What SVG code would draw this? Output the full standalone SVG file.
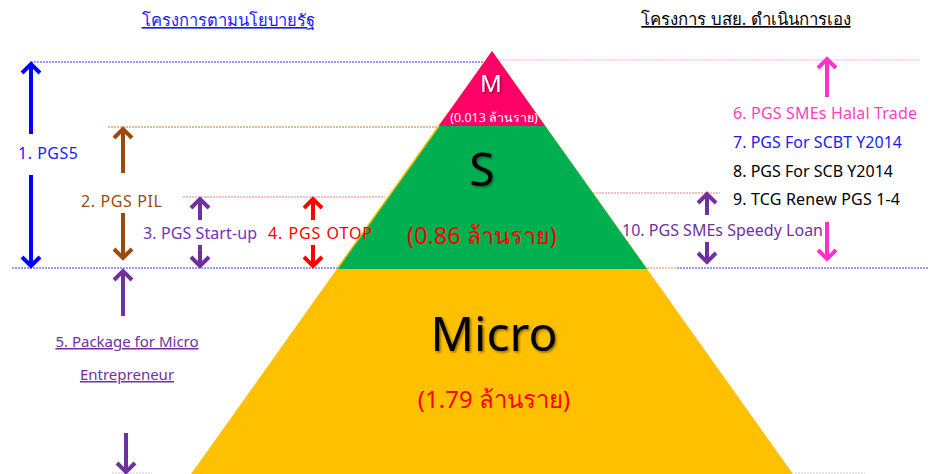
<svg xmlns="http://www.w3.org/2000/svg" width="930" height="474" viewBox="0 0 930 474">
<style>
text{font-family:"Noto Sans","DejaVu Sans",sans-serif;}
.lbl{font-size:16px;}
.sm{font-size:15px;}
.big{fill:#000;filter:url(#sh);}
.dot{stroke-width:1;stroke-dasharray:2,1;fill:none;}
.shaft{stroke-width:4;fill:none;}
.u{text-decoration:underline;}
</style>
<defs>
<filter id="sh" x="-20%" y="-20%" width="140%" height="140%">
<feDropShadow dx="1.5" dy="1.5" stdDeviation="1" flood-color="#000" flood-opacity="0.45"/>
</filter>
<marker id="aBlue" markerUnits="userSpaceOnUse" viewBox="-2 -2 24 24" refX="10" refY="9" markerWidth="24" markerHeight="24" orient="auto"><path d="M1,0 L10,9 L1,18" fill="none" stroke="#0000ff" stroke-width="4"/></marker>
<marker id="aBrown" markerUnits="userSpaceOnUse" viewBox="-2 -2 24 24" refX="10" refY="9" markerWidth="24" markerHeight="24" orient="auto"><path d="M1,0 L10,9 L1,18" fill="none" stroke="#9c4a0c" stroke-width="4"/></marker>
<marker id="aPurple" markerUnits="userSpaceOnUse" viewBox="-2 -2 24 24" refX="10" refY="9" markerWidth="24" markerHeight="24" orient="auto"><path d="M1,0 L10,9 L1,18" fill="none" stroke="#7030a0" stroke-width="4"/></marker>
<marker id="aRed" markerUnits="userSpaceOnUse" viewBox="-2 -2 24 24" refX="10" refY="9" markerWidth="24" markerHeight="24" orient="auto"><path d="M1,0 L10,9 L1,18" fill="none" stroke="#ff0000" stroke-width="4"/></marker>
<marker id="aPink" markerUnits="userSpaceOnUse" viewBox="-2 -2 24 24" refX="10" refY="9" markerWidth="24" markerHeight="24" orient="auto"><path d="M1,0 L10,9 L1,18" fill="none" stroke="#ff33cc" stroke-width="4"/></marker>
</defs>
<rect width="930" height="474" fill="#fff"/>

<g id="headers">
<text x="228" y="26" font-size="16.5" fill="#1a1aff" text-anchor="middle" class="u">โครงการตามนโยบายรัฐ</text>
<text x="746" y="25" font-size="16.8" fill="#000" text-anchor="middle" class="u">โครงการ บสย. ดำเนินการเอง</text>
</g>

<g id="guides">
<line class="dot" x1="31" y1="62" x2="483" y2="62" stroke="#3333ff"/>
<line class="dot" x1="500" y1="60" x2="920" y2="60" stroke="#ff99ff"/>
<line class="dot" x1="108" y1="127" x2="437" y2="127" stroke="#c87832"/>
<line class="dot" x1="183" y1="197" x2="385" y2="197" stroke="#f08080"/>
<line class="dot" x1="593" y1="193" x2="720" y2="193" stroke="#f08080"/>
<line class="dot" x1="12" y1="268" x2="340" y2="268" stroke="#3333ff"/>
<line class="dot" x1="647" y1="268" x2="677" y2="268" stroke="#e09050"/>
<line class="dot" x1="677" y1="268" x2="928" y2="268" stroke="#3333ff"/>
<line class="dot" x1="112" y1="473" x2="152" y2="473" stroke="#cccccc"/>
<line class="dot" x1="795" y1="473" x2="865" y2="473" stroke="#cccccc"/>
</g>

<g id="pyramid">
<polygon points="492,51 191,474 793,474" fill="#ffc000"/>
<polygon points="438.7,126 545.3,126 647,269 337,269" fill="#00b050"/>
<line x1="446" y1="116" x2="337" y2="269" stroke="#ffc000" stroke-width="1.5"/>
<polygon points="492,51 438.7,126 545.3,126" fill="#ff0066"/>
</g>

<g id="node-m">
<text x="491" y="92" font-size="24" fill="#fff" text-anchor="middle" filter="url(#sh)">M</text>
<text x="494" y="122" font-size="12.5" fill="#fff" text-anchor="middle">(0.013 ล้านราย)</text>
</g>
<g id="node-s">
<text x="482" y="186" font-size="46" text-anchor="middle" class="big">S</text>
<text x="482" y="244" font-size="23.5" fill="#ff0000" text-anchor="middle">(0.86 ล้านราย)</text>
</g>
<g id="node-micro">
<text x="494" y="351" font-size="48" text-anchor="middle" class="big">Micro</text>
<text x="494" y="408" font-size="24" fill="#ff0000" text-anchor="middle">(1.79 ล้านราย)</text>
</g>

<g id="connectors">
<line class="shaft" x1="31" y1="134" x2="31" y2="64" stroke="#0000ff" marker-end="url(#aBlue)"/>
<line class="shaft" x1="31" y1="175" x2="31" y2="266" stroke="#0000ff" marker-end="url(#aBlue)"/>
<line class="shaft" x1="123" y1="173" x2="123" y2="129" stroke="#9c4a0c" marker-end="url(#aBrown)"/>
<line class="shaft" x1="123" y1="213" x2="123" y2="258" stroke="#9c4a0c" marker-end="url(#aBrown)"/>
<line class="shaft" x1="200" y1="220" x2="200" y2="199" stroke="#7030a0" marker-end="url(#aPurple)"/>
<line class="shaft" x1="200" y1="245" x2="200" y2="266" stroke="#7030a0" marker-end="url(#aPurple)"/>
<line class="shaft" x1="313" y1="220" x2="313" y2="199" stroke="#ff0000" marker-end="url(#aRed)"/>
<line class="shaft" x1="313" y1="245" x2="313" y2="266" stroke="#ff0000" marker-end="url(#aRed)"/>
<line class="shaft" x1="123" y1="316" x2="123" y2="271" stroke="#7030a0" marker-end="url(#aPurple)"/>
<line class="shaft" x1="126" y1="433" x2="126" y2="472" stroke="#7030a0" marker-end="url(#aPurple)"/>
<line class="shaft" x1="827" y1="97" x2="827" y2="59" stroke="#ff33cc" marker-end="url(#aPink)"/>
<line class="shaft" x1="827" y1="222" x2="827" y2="259" stroke="#ff33cc" marker-end="url(#aPink)"/>
<line class="shaft" x1="707" y1="215" x2="707" y2="194" stroke="#7030a0" marker-end="url(#aPurple)"/>
<line class="shaft" x1="707" y1="242" x2="707" y2="262" stroke="#7030a0" marker-end="url(#aPurple)"/>
</g>

<g id="label-1"><text class="lbl" x="18" y="159" fill="#1a1aff" textLength="60">1. PGS5</text></g>
<g id="label-2"><text class="lbl" x="81" y="207" fill="#9c4a0c" textLength="81">2. PGS PIL</text></g>
<g id="label-3"><text class="lbl" x="143" y="239" fill="#7030c0" textLength="114">3. PGS Start-up</text></g>
<g id="label-4"><text class="lbl" x="268" y="239" fill="#ff0000" textLength="104">4. PGS OTOP</text></g>
<g id="label-5">
<text class="sm u" x="127" y="347" fill="#7030a0" text-anchor="middle">5.  Package for Micro</text>
<text class="sm u" x="127" y="380" fill="#7030a0" text-anchor="middle">Entrepreneur</text>
</g>
<g id="label-6"><text class="lbl" x="733" y="119" fill="#ff40c8" textLength="184">6. PGS SMEs Halal Trade</text></g>
<g id="label-7"><text class="lbl" x="733" y="148" fill="#1a1aff" textLength="169">7. PGS For SCBT Y2014</text></g>
<g id="label-8"><text class="lbl" x="733" y="177" fill="#000" textLength="160">8. PGS For SCB Y2014</text></g>
<g id="label-9"><text class="lbl" x="733" y="205" fill="#000" textLength="167">9. TCG Renew PGS 1-4</text></g>
<g id="label-10"><text class="lbl" x="622" y="236" fill="#7030a0" textLength="201">10. PGS SMEs Speedy Loan</text></g>
</svg>
